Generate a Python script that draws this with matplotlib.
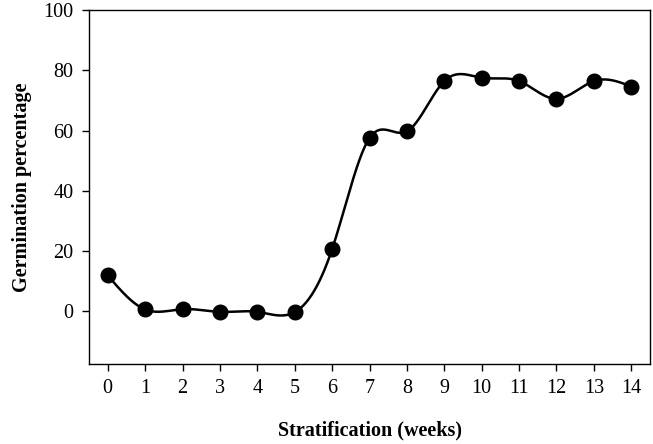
import numpy as np
import matplotlib
matplotlib.use("Agg")
import matplotlib.pyplot as plt

weeks = [0, 1, 2, 3, 4, 5, 6, 7, 8, 9, 10, 11, 12, 13, 14]
germination = [11.9, 0.6, 0.7, -0.2, -0.2, -0.3, 20.6, 57.5, 59.7, 76.4, 77.5, 76.4, 70.5, 76.4, 74.6]
y_ticks = [0, 20, 40, 60, 80, 100]


def natural_spline(x, y, xs):
    x = np.asarray(x, float); y = np.asarray(y, float)
    n = len(x)
    h = np.diff(x)
    A = np.zeros((n, n)); b = np.zeros(n)
    A[0, 0] = 1; A[-1, -1] = 1
    for i in range(1, n - 1):
        A[i, i - 1] = h[i - 1]
        A[i, i] = 2 * (h[i - 1] + h[i])
        A[i, i + 1] = h[i]
        b[i] = 6 * ((y[i + 1] - y[i]) / h[i] - (y[i] - y[i - 1]) / h[i - 1])
    M = np.linalg.solve(A, b)
    idx = np.clip(np.searchsorted(x, xs) - 1, 0, n - 2)
    x0 = x[idx]; x1 = x[idx + 1]; hh = x1 - x0
    t0 = x1 - xs; t1 = xs - x0
    return (M[idx] * t0 ** 3 / (6 * hh) + M[idx + 1] * t1 ** 3 / (6 * hh)
            + (y[idx] / hh - M[idx] * hh / 6) * t0
            + (y[idx + 1] / hh - M[idx + 1] * hh / 6) * t1)


plt.rcParams['font.family'] = ['Liberation Serif', 'DejaVu Serif']

fig = plt.figure(figsize=(6.53, 4.44), dpi=100)
ax = fig.add_axes([0.1363, 0.1802, 0.8591, 0.7973])

xs = np.linspace(weeks[0], weeks[-1], 600)
ax.plot(xs, natural_spline(weeks, germination, xs), color='black', lw=1.8, zorder=2)
ax.plot(weeks, germination, 'o', color='black', markersize=10.5, zorder=3)

ax.set_xlim(-0.5, 14.5)
ax.set_ylim(-17.5, 100)
ax.set_xticks(weeks)
ax.set_yticks(y_ticks)
ax.tick_params(direction='out', length=5, width=1, labelsize=14.5, pad=6)
for s in ax.spines.values():
    s.set_linewidth(1.0)

ax.set_xlabel('Stratification (weeks)', fontsize=14.5, fontweight='bold', labelpad=16)
ax.set_ylabel('Germination percentage', fontsize=14.5, fontweight='bold', labelpad=8)

fig.savefig('out.png', dpi=100)
